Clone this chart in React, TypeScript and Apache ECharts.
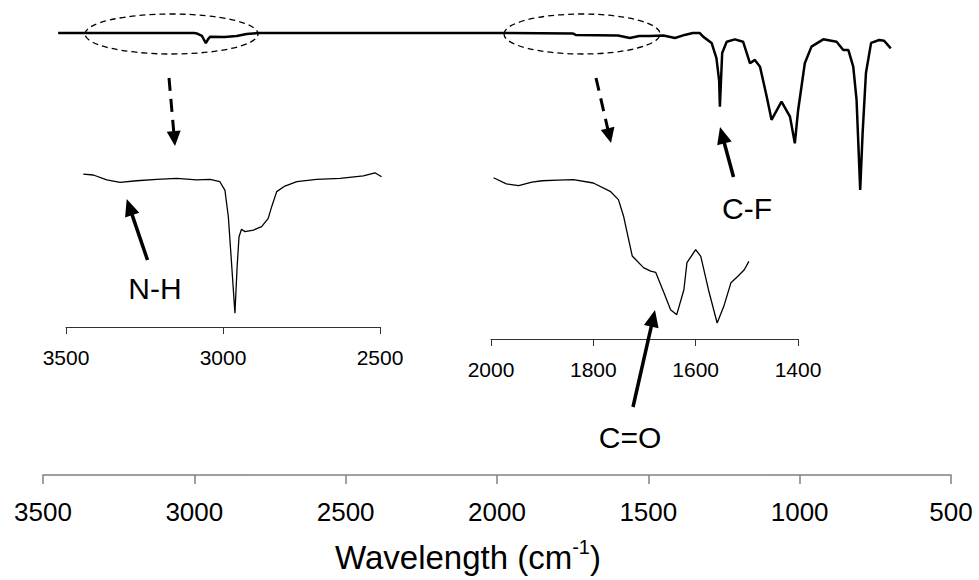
import React, { useEffect, useRef } from "react";
import * as echarts from "echarts";

// ---------- data ----------
// Full spectrum: wavenumber (cm-1) and relative transmittance (a.u.)
const mainWavenumbers = [3450, 3000, 2992, 2975, 2962, 2955, 2948, 2900, 2860, 2827, 2790, 2000, 1750, 1740, 1600, 1561, 1530, 1495, 1450, 1412, 1380, 1353, 1330, 1319, 1291, 1275, 1266, 1263.6, 1260, 1256, 1241, 1214, 1187, 1164, 1148, 1131, 1109, 1093, 1060, 1032, 1016, 1005, 983, 961, 922, 878, 856, 839, 823, 812, 800, 792, 781, 764, 737, 721, 699];
const mainTransmittance = [98.2, 98.2, 98.0, 96.5, 92.2, 94.5, 96.0, 95.9, 96.5, 97.6, 98.2, 98.2, 98.0, 97.1, 96.8, 95.3, 96.5, 96.5, 96.8, 95.3, 97.1, 98.2, 98.2, 96.1, 92.4, 83.5, 70, 54.9, 70, 86.5, 93.1, 94.5, 93.1, 80.4, 82.4, 78.4, 60.8, 47.1, 57.8, 49.0, 33.3, 52.9, 80.4, 90.2, 94.5, 93.1, 88.2, 88.2, 78.4, 58.8, 5.9, 39.4, 74.7, 92.4, 94.1, 93.7, 89.2];

// Inset 1: 3500-2500 cm-1 (N-H / C-H region)
const nhWavenumbers = [3445, 3413, 3370, 3328, 3275, 3211, 3147, 3084, 3041, 3010, 2994, 2983, 2972, 2962, 2955, 2949, 2941, 2930, 2903, 2877, 2856, 2845, 2829, 2803, 2765, 2702, 2627, 2553, 2516, 2495];
const nhTransmittance = [95.6, 95, 91.9, 90.4, 91.4, 92.3, 92.9, 91.9, 92.3, 90.8, 85.6, 68.9, 37.7, 8.6, 37.7, 56.4, 61.1, 59.6, 60.6, 62.7, 67.9, 75.2, 84.6, 88.1, 90.8, 92.3, 92.9, 94.4, 96.4, 93.9];

// Inset 2: 2000-1400 cm-1 (C=O region)
const coWavenumbers = [1995, 1970, 1946, 1920, 1900, 1870, 1839, 1800, 1767, 1751, 1741, 1735, 1724, 1702, 1688, 1678, 1662, 1649, 1637, 1623, 1617, 1600, 1590, 1575, 1558, 1545, 1531, 1518, 1505, 1496];
const coTransmittance = [100.8, 97, 95.8, 98.1, 98.9, 99.3, 99.6, 97.5, 92.3, 87.1, 76.9, 68, 51.9, 44.6, 42.4, 41.6, 28.9, 18.3, 15.2, 30.8, 47.7, 55.8, 51.6, 30.8, 10, 20.4, 35.2, 39.1, 43.3, 48.5];

// Axis tick ranges
const mainAxisRange = [500, 3500];
const mainAxisStep = 500;
const nhAxisRange = [2500, 3500];
const nhAxisStep = 500;
const coAxisRange = [1400, 2000];
const coAxisStep = 200;

// Labels
const bandLabels = ["N-H", "C-F", "C=O"];
const axisTitle = "Wavelength (cm";
const axisTitleSup = "-1";

const FONT = "'Liberation Sans', Arial, Helvetica, sans-serif";

const zip = (xs: number[], ys: number[]) => xs.map((x, i) => [x, ys[i]]);

function arrow(
  x1: number, y1: number, x2: number, y2: number,
  lineWidth: number, headLen: number, headHalf: number, dash?: number[]
) {
  const dx = x2 - x1, dy = y2 - y1;
  const len = Math.sqrt(dx * dx + dy * dy);
  const ux = dx / len, uy = dy / len;
  const bx = x2 - ux * headLen, by = y2 - uy * headLen;
  const nx = -uy, ny = ux;
  return [
    {
      type: "line",
      z: 100,
      shape: { x1, y1, x2: bx + ux * 1, y2: by + uy * 1 },
      style: { stroke: "#000", lineWidth, lineDash: dash || null, fill: null },
    },
    {
      type: "polygon",
      z: 100,
      shape: {
        points: [
          [x2, y2],
          [bx + nx * headHalf, by + ny * headHalf],
          [bx - nx * headHalf, by - ny * headHalf],
        ],
      },
      style: { fill: "#000", stroke: null },
    },
  ];
}

function xAxisCfg(
  gridIndex: number, range: number[], step: number, color: string,
  tickLen: number, fontSize: number, margin: number, lw: number
) {
  return {
    type: "value",
    gridIndex,
    min: range[0],
    max: range[1],
    interval: step,
    inverse: true,
    axisLine: { show: true, onZero: false, lineStyle: { color, width: lw } },
    axisTick: { show: true, length: tickLen, inside: false, lineStyle: { color, width: lw } },
    axisLabel: {
      show: true, color: "#000", fontSize, fontFamily: FONT, margin,
      formatter: (v: number) => String(v),
    },
    splitLine: { show: false },
  };
}

export default function App() {
  const ref = useRef<HTMLDivElement>(null);

  useEffect(() => {
    if (!ref.current) return;
    const chart = echarts.init(ref.current, undefined, { renderer: "svg" });

    const graphics: any[] = [
      // dashed ellipses on the full spectrum
      {
        type: "ellipse", z: 100,
        shape: { cx: 171.5, cy: 34, rx: 86.5, ry: 20 },
        style: { fill: null, stroke: "#000", lineWidth: 1.3, lineDash: [6, 4] },
      },
      {
        type: "ellipse", z: 100,
        shape: { cx: 582, cy: 34, rx: 78, ry: 20 },
        style: { fill: null, stroke: "#000", lineWidth: 1.3, lineDash: [6, 4] },
      },
      ...arrow(169, 78, 175, 146, 3, 15, 7, [13, 8]),
      ...arrow(596, 78, 611, 143, 3, 15, 7, [13, 8]),
      ...arrow(147.5, 260, 126.7, 199, 3.5, 17, 7.5),
      ...arrow(733.5, 177, 720, 127, 3.5, 17, 7.5),
      ...arrow(633, 407, 655, 310, 3.5, 17, 7.5),
      {
        type: "text", z: 100, x: 155, y: 288,
        style: { text: bandLabels[0], fill: "#000", font: `30px ${FONT}`, align: "center", verticalAlign: "middle" },
      },
      {
        type: "text", z: 100, x: 747, y: 208,
        style: { text: bandLabels[1], fill: "#000", font: `30px ${FONT}`, align: "center", verticalAlign: "middle" },
      },
      {
        type: "text", z: 100, x: 630, y: 437,
        style: { text: bandLabels[2], fill: "#000", font: `30px ${FONT}`, align: "center", verticalAlign: "middle" },
      },
      {
        type: "text", z: 100, x: 468, y: 557,
        style: {
          text: `{a|${axisTitle}}{s|${axisTitleSup}}{a|)}`,
          fill: "#000",
          align: "center",
          verticalAlign: "middle",
          rich: {
            a: { fontSize: 33, fontFamily: FONT, lineHeight: 40, fill: "#000" },
            s: { fontSize: 20, fontFamily: FONT, lineHeight: 22, verticalAlign: "top", fill: "#000" },
          },
        },
      },
    ];

    chart.setOption({
      animation: false,
      backgroundColor: "#fff",
      grid: [
        { left: 43, top: 30, width: 908, height: 445 },
        { left: 66, top: 167, width: 314, height: 160 },
        { left: 491, top: 171, width: 307, height: 168 },
      ],
      xAxis: [
        xAxisCfg(0, mainAxisRange, mainAxisStep, "#808080", 9, 26, 24, 1.5),
        xAxisCfg(1, nhAxisRange, nhAxisStep, "#333", 7, 21, 20, 1),
        xAxisCfg(2, coAxisRange, coAxisStep, "#333", 7, 21, 20, 1),
      ],
      yAxis: [
        { type: "value", gridIndex: 0, min: -162, max: 100, show: false },
        { type: "value", gridIndex: 1, min: 0, max: 100, show: false },
        { type: "value", gridIndex: 2, min: 0, max: 105, show: false },
      ],
      series: [
        {
          type: "line", xAxisIndex: 0, yAxisIndex: 0, showSymbol: false, symbol: "none",
          data: zip(mainWavenumbers, mainTransmittance),
          lineStyle: { color: "#000", width: 2.5 },
        },
        {
          type: "line", xAxisIndex: 1, yAxisIndex: 1, showSymbol: false, symbol: "none",
          data: zip(nhWavenumbers, nhTransmittance),
          lineStyle: { color: "#000", width: 1.3 },
        },
        {
          type: "line", xAxisIndex: 2, yAxisIndex: 2, showSymbol: false, symbol: "none",
          data: zip(coWavenumbers, coTransmittance),
          lineStyle: { color: "#000", width: 1.3 },
        },
      ],
      graphic: graphics,
    });

    return () => chart.dispose();
  }, []);

  return (
    <div
      ref={ref}
      style={{ position: "fixed", left: 0, top: 0, width: 979, height: 580, background: "#fff" }}
    />
  );
}
